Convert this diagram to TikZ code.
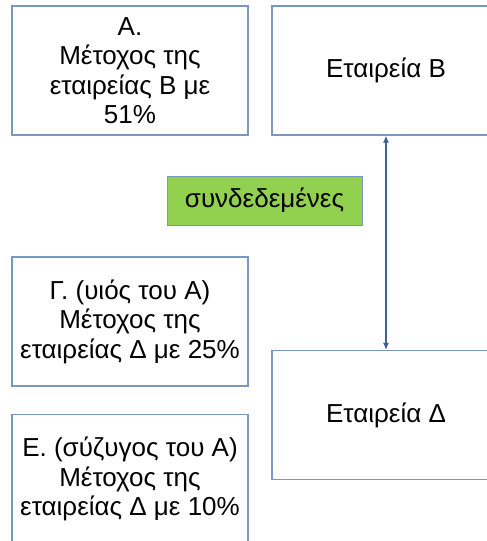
\documentclass[tikz,border=0pt]{standalone}
\usepackage{fontspec}
\setmainfont{Liberation Sans}
\usetikzlibrary{arrows.meta}
\definecolor{boxline}{RGB}{122,152,190}
\definecolor{arrowc}{RGB}{60,100,145}
\definecolor{greenfill}{RGB}{146,208,80}
\tikzset{
  infobox/.style={draw=boxline, line width=1.3pt, fill=white, align=center,
    inner sep=0pt, minimum width=236pt, minimum height=129pt,
    font=\fontsize{26}{29.5}\selectfont},
  firmbox/.style={draw=boxline, line width=1.3pt, fill=white, align=center,
    inner sep=0pt, minimum width=228pt, minimum height=129pt,
    font=\fontsize{26}{29.5}\selectfont},
  tagbox/.style={draw=boxline, line width=1pt, fill=greenfill, align=center,
    inner sep=0pt, minimum width=195pt, minimum height=49pt,
    font=\fontsize{26}{29.5}\selectfont},
  link/.style={draw=arrowc, line width=1.2pt, {Latex[length=7pt,width=6pt]}-{Latex[length=7pt,width=6pt]}}
}
\begin{document}
\begin{tikzpicture}[x=1pt,y=-1pt]
\clip (0,0) rectangle (487,541);
\fill[white] (0,0) rectangle (487,541);
\node[infobox] (A) at (130,70.5) {Α.\\Μέτοχος της\\εταιρείας Β με\\51\%};
\node[firmbox] (B) at (386,70.5) {Εταιρεία Β};
\node[tagbox] (S) at (264.5,200.5) {συνδεδεμένες};
\node[infobox] (G) at (130,321.5) {Γ. (υιός του Α)\\Μέτοχος της\\εταιρείας Δ με 25\%};
\node[firmbox] (D) at (386,415) {Εταιρεία Δ};
\node[infobox] (E) at (130,479) {Ε. (σύζυγος του Α)\\Μέτοχος της\\εταιρείας Δ με 10\%};
\draw[link] (B.south) -- (D.north);
\end{tikzpicture}
\end{document}
